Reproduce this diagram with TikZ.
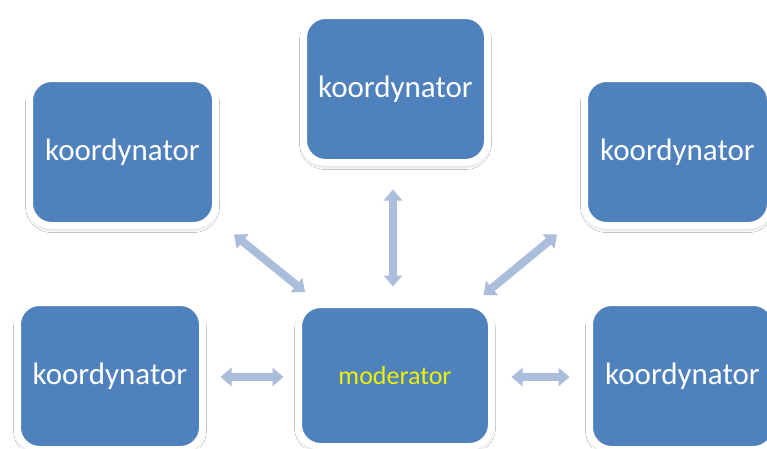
\documentclass[tikz,border=0pt]{standalone}
\usepackage{fontspec}
\setmainfont{Carlito}
\usetikzlibrary{arrows.meta,calc,shadows.blur}
\definecolor{boxblue}{HTML}{4F81BD}
\definecolor{arrowblue}{HTML}{AABDDB}
\definecolor{modyellow}{HTML}{EEF200}
\begin{document}
\begin{tikzpicture}[x=1pt,y=-1pt,
  box/.style={draw=white, line width=7pt, fill=boxblue, rounded corners=22pt,
    inner sep=0pt, text=white, font=\fontsize{31}{37}\selectfont,
    blur shadow={shadow xshift=0pt, shadow yshift=-3pt, shadow blur radius=4pt, shadow blur steps=6, shadow opacity=30}},
  dblarrow/.style={draw=arrowblue, line width=8pt,
    {Triangle[width=18pt,length=11pt]}-{Triangle[width=18pt,length=11pt]}}]
\useasboundingbox (0,0) rectangle (767,448);
\fill[white] (0,0) rectangle (767,448);
\clip (0,0) rectangle (767,448);
\node[box, minimum width=186pt, minimum height=147pt] (tl) at (122.5,152) {koordynator};
\node[box, minimum width=184pt, minimum height=147pt] (tc) at (395.5,89) {koordynator};
\node[box, minimum width=186pt, minimum height=147pt] (tr) at (677.5,152) {koordynator};
\node[box, minimum width=185pt, minimum height=147pt] (bl) at (110,376) {koordynator};
\node[box, minimum width=193pt, minimum height=142pt, text=modyellow, font=\fontsize{26}{31}\selectfont] (c) at (395,375.5) {moderator};
\node[box, minimum width=186pt, minimum height=147pt] (br) at (682.5,376) {koordynator};
\draw[dblarrow] ($(tc.south)+(-2.5,23.5)$) -- ($(c.north)+(-2,-14.5)$);
\draw[dblarrow] ($(bl.east)+(14.5,1)$) -- ($(c.west)+(-11.5,1.5)$);
\draw[dblarrow] ($(c.east)+(16.5,1.5)$) -- ($(br.west)+(-16.5,1)$);
\draw[dblarrow] ($(tl.south east)+(15,5.5)$) -- ($(c.north west)+(10,-9)$);
\draw[dblarrow] ($(tr.south west)+(-24,5.5)$) -- ($(c.north east)+(-11.5,-6)$);
\end{tikzpicture}
\end{document}
